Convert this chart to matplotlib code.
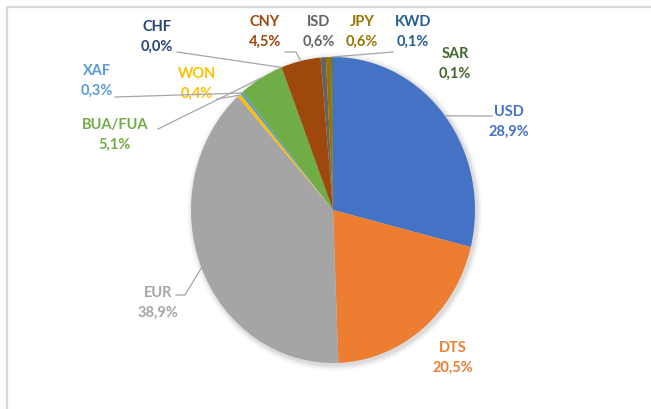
import matplotlib.pyplot as plt
import numpy as np
from matplotlib.patches import Ellipse

currencies = ['USD', 'DTS', 'EUR', 'WON', 'XAF', 'BUA/FUA', 'CHF', 'CNY', 'ISD', 'JPY', 'KWD', 'SAR']
shares = [28.9, 20.5, 38.9, 0.4, 0.3, 5.1, 0.0, 4.5, 0.6, 0.6, 0.1, 0.1]
colors = ['#4472C4', '#ED7D31', '#A5A5A5', '#FFC000', '#5B9BD5', '#70AD47',
          '#264478', '#9E480E', '#636363', '#997300', '#255E91', '#43682B']

# layout in pixels of the 651x409 picture (the pie is a little stretched vertically)
W, H = 651, 409
cx, cy, rx, ry = 333, 210, 142, 153
label_pos = {'USD': (509, 112), 'DTS': (453, 348), 'EUR': (158, 293), 'WON': (197, 74),
             'XAF': (97, 71), 'BUA/FUA': (115, 125), 'CHF': (157, 27), 'CNY': (265, 22),
             'ISD': (319, 22), 'JPY': (362, 22), 'KWD': (413, 22), 'SAR': (455, 54)}
leader_pts = {'USD': [(492, 116)], 'EUR': [(176, 295), (185, 295)], 'WON': [(217, 99)],
              'XAF': [(115, 97)], 'BUA/FUA': [(158, 129)], 'CHF': [(177, 52)],
              'CNY': [(285, 52), (296, 52)], 'KWD': [(393, 52)]}


def px(x, y):
    return ((x - cx) / rx, (cy - y) / ry)


fig = plt.figure(figsize=(6.51, 4.09), dpi=100)
ax = fig.add_axes([0, 0, 1, 1])

# soft shadow under the pie
for i, a in enumerate([0.05, 0.04, 0.03, 0.02]):
    ax.add_patch(Ellipse((0.012, -0.012), 2 + 0.02 * (i + 1), 2 + 0.02 * (i + 1),
                         color='black', alpha=a, lw=0, zorder=0))

wedges, _ = ax.pie(shares, colors=colors, startangle=90, counterclock=False,
                   wedgeprops=dict(linewidth=0))
for w in wedges:
    w.set_zorder(2)

ax.set_aspect('auto')
x0, y0 = px(0, H)
x1, y1 = px(W, 0)
ax.set_xlim(x0, x1)
ax.set_ylim(y0, y1)
ax.axis('off')

font = dict(family=['Lato', 'DejaVu Sans'], weight='bold', fontsize=10.5)
total = sum(shares)
start = 0.0
for name, val, col in zip(currencies, shares, colors):
    mid = start + val / 2
    start += val
    ang = np.deg2rad(90 - 360 * mid / total)
    lx, ly = label_pos[name]
    ax.text(*px(lx, ly), name, color=col, ha='center', va='center', **font)
    ax.text(*px(lx, ly + 20), f'{val:.1f}%'.replace('.', ','), color=col,
            ha='center', va='center', **font)
    if name in leader_pts:
        pts = [px(x, y) for x, y in leader_pts[name]] + [(np.cos(ang), np.sin(ang))]
        xs, ys = zip(*pts)
        ax.plot(xs, ys, color='#A6A6A6', lw=0.9, zorder=3)

# chart area border (runs off the right and bottom of the picture)
ax.plot([px(7, 0)[0], px(7, 0)[0], px(W + 5, 0)[0]],
        [px(0, H + 5)[1], px(0, 7)[1], px(0, 7)[1]], color='#D9D9D9', lw=1.6, zorder=1)

fig.savefig('out.png', dpi=100)
